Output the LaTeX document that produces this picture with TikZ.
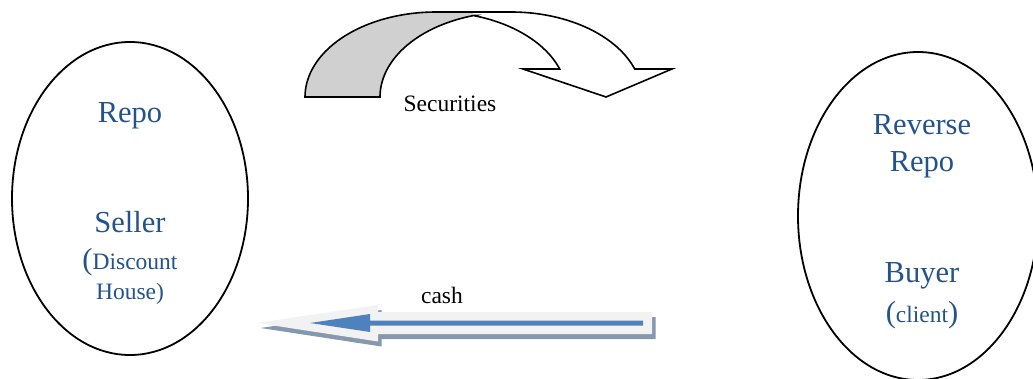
\documentclass[tikz,border=0pt]{standalone}
\usepackage{fontspec}
\setmainfont{Liberation Serif}
\usetikzlibrary{shapes.geometric}
\definecolor{txtblue}{HTML}{24528A}
\definecolor{arrblue}{HTML}{4F81BD}
\definecolor{glowgrey}{HTML}{F2F2F2}
\definecolor{shadowgrey}{HTML}{8797AD}
\definecolor{bandgrey}{HTML}{D0D0D0}
\newcommand{\bigfont}{\fontsize{30.5}{36}\selectfont}
\newcommand{\smallfont}{\fontsize{23.5}{28}\selectfont}
\begin{document}
\begin{tikzpicture}[x=1pt,y=-1pt,
  big/.style={font=\bigfont, text=txtblue, anchor=base, inner sep=0pt},
  small/.style={font=\smallfont, text=txtblue, anchor=base, inner sep=0pt},
  lbl/.style={font=\smallfont, text=black, anchor=base, inner sep=0pt},
  party/.style={draw=black, line width=1.8pt, ellipse, inner sep=0pt},
  outline/.style={draw=black, line width=1.6pt, line join=miter}]
\fill[white] (0,0) rectangle (1033,379);
\path[use as bounding box] (0,0) rectangle (1033,379);
\clip (0,0) rectangle (1033,379);

% parties
\node[party, minimum width=236pt, minimum height=313pt] (seller) at (130,198.5) {};
\node[party, minimum width=240pt, minimum height=328pt] (buyer) at (918,216) {};

% texts in left ellipse
\node[big] (repoL) at (130,123) {Repo};
\node[big] (sellerT) at (130,233) {Seller};
\node[small] (disc) at (130,270) {{\bigfont(}Discount};
\node[small] (house) at (130,299) {House)};

% texts in right ellipse
\node[big] (rev) at (922,135) {Reverse};
\node[big] (repoR) at (922,172) {Repo};
\node[big] (buyerT) at (922,283) {Buyer};
\node[small] (client) at (922,322) {{\bigfont(}client{\bigfont)}};

% securities curved arrow
\fill[bandgrey] plot[domain=180:90,samples=40] ({436+131*cos(\x)},{97-85*sin(\x)})
  -- (473.5,12)
  -- plot[domain=106.6:180,samples=40] ({511+131*cos(\x)},{97-85*sin(\x)}) -- cycle;
\fill[white] (473.5,12) -- (511,12)
  -- plot[domain=90:19.2,samples=40] ({511+131*cos(\x)},{97-85*sin(\x)})
  -- (672,69) -- (606,97) -- (523,69)
  -- plot[domain=19.2:73.4,samples=40] ({436+131*cos(\x)},{97-85*sin(\x)}) -- cycle;
\draw[outline] plot[domain=180:90,samples=40] ({436+131*cos(\x)},{97-85*sin(\x)})
  -- plot[domain=90:19.2,samples=40] ({511+131*cos(\x)},{97-85*sin(\x)})
  -- (672,69) -- (606,97) -- (523,69)
  -- plot[domain=19.2:73.4,samples=40] ({436+131*cos(\x)},{97-85*sin(\x)})
  -- plot[domain=106.6:180,samples=40] ({511+131*cos(\x)},{97-85*sin(\x)})
  -- cycle;
\node[lbl] (sec) at (450,112) {Securities};

% cash arrow: shadow (offset down-right), light backing, blue arrow
\fill[shadowgrey] (260.5,328) -- (381.5,310) -- (381.5,317) -- (655.5,317) -- (655.5,339) -- (381.5,339) -- (381.5,346.5) -- cycle;
\fill[glowgrey] (257,323) -- (378,305) -- (378,312) -- (652,312) -- (652,334) -- (378,334) -- (378,341.5) -- cycle;
\fill[arrblue] (310,323) -- (370,314) -- (370,320.5) -- (643,320.5) -- (643,325.5) -- (370,325.5) -- (370,332) -- cycle;
\node[lbl] (cash) at (442,303) {cash};
\end{tikzpicture}
\end{document}
